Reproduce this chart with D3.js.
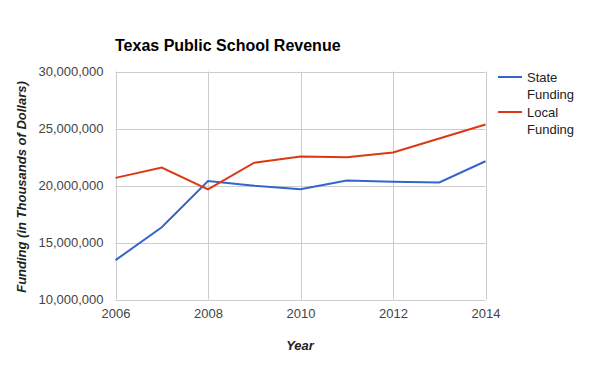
<!DOCTYPE html>
<html>
<head>
<meta charset="utf-8">
<script src="https://cdn.jsdelivr.net/npm/d3@7"></script>
<style>
  body { margin: 0; background: #fff; }
  text { font-family: Arial, "Liberation Sans", sans-serif; }
</style>
</head>
<body>
<svg id="chart" width="600" height="371"></svg>
<script>
var years = [2006, 2007, 2008, 2009, 2010, 2011, 2012, 2013, 2014];
var stateFunding = [13450000, 16340000, 20400000, 19980000, 19680000, 20440000, 20330000, 20270000, 22130000];
var localFunding = [20670000, 21580000, 19650000, 22000000, 22540000, 22480000, 22900000, 24120000, 25350000];
var seriesNames = ["State Funding", "Local Funding"];
var seriesColors = ["#3366cc", "#dc3912"];
var yTicks = [10000000, 15000000, 20000000, 25000000, 30000000];
var xTicks = [2006, 2008, 2010, 2012, 2014];

var svg = d3.select("#chart");
// plot box (note: "top" is reserved on window, so use other names)
var plotL = 115.5, plotR = 485.5, plotT = 71.5, plotB = 299.5;

var x = d3.scaleLinear().domain([2006, 2014]).range([plotL, plotR]);
var y = d3.scaleLinear().domain([10000000, 30000000]).range([plotB, plotT]);

// gridlines
var grid = svg.append("g");
grid.selectAll(".hg").data(yTicks).enter().append("line")
	.attr("x1", plotL).attr("x2", plotR)
	.attr("y1", function(d) { return Math.round(y(d)) + 0.5; })
	.attr("y2", function(d) { return Math.round(y(d)) + 0.5; })
	.attr("stroke", "#cccccc").attr("stroke-width", 1);
grid.selectAll(".vg").data(xTicks).enter().append("line")
	.attr("y1", plotT).attr("y2", plotB)
	.attr("x1", function(d) { return Math.round(x(d)) + 0.5; })
	.attr("x2", function(d) { return Math.round(x(d)) + 0.5; })
	.attr("stroke", "#cccccc").attr("stroke-width", 1);

// axes with d3
var yAxis = d3.axisLeft(y).tickValues(yTicks).tickSize(0).tickPadding(12)
	.tickFormat(d3.format(","));
var gy = svg.append("g").attr("transform", "translate(" + plotL + ",0)").call(yAxis);
gy.select(".domain").remove();
gy.selectAll("text").attr("font-size", 13).attr("fill", "#444")
	.attr("font-family", "Arial, 'Liberation Sans', sans-serif");

var xAxis = d3.axisBottom(x).tickValues(xTicks).tickSize(0).tickPadding(9)
	.tickFormat(d3.format("d"));
var gx = svg.append("g").attr("transform", "translate(0," + plotB + ")").call(xAxis);
gx.select(".domain").remove();
gx.selectAll("text").attr("font-size", 13).attr("fill", "#444")
	.attr("font-family", "Arial, 'Liberation Sans', sans-serif");

// lines
var line = d3.line()
	.x(function(d, i) { return x(years[i]); })
	.y(function(d) { return y(d); });
[stateFunding, localFunding].forEach(function(vals, i) {
	svg.append("path").datum(vals)
		.attr("d", line)
		.attr("fill", "none")
		.attr("stroke", seriesColors[i])
		.attr("stroke-width", 2);
});

// title
svg.append("text").attr("x", 115).attr("y", 51)
	.attr("font-size", 16).attr("font-weight", "bold").attr("fill", "#000")
	.text("Texas Public School Revenue");

// axis titles
svg.append("text").attr("x", 300).attr("y", 350)
	.attr("text-anchor", "middle").attr("font-size", 13)
	.attr("font-weight", "bold").attr("font-style", "italic").attr("fill", "#222")
	.text("Year");
svg.append("text")
	.attr("transform", "translate(26,187) rotate(-90)")
	.attr("text-anchor", "middle").attr("font-size", 13)
	.attr("font-weight", "bold").attr("font-style", "italic").attr("fill", "#222")
	.text("Funding (in Thousands of Dollars)");

// legend
var legend = svg.append("g");
seriesNames.forEach(function(name, i) {
	var ly = 77 + i * 35;
	legend.append("line").attr("x1", 498).attr("x2", 522)
		.attr("y1", ly).attr("y2", ly)
		.attr("stroke", seriesColors[i]).attr("stroke-width", 2);
	var words = name.split(" ");
	words.forEach(function(w, j) {
		legend.append("text").attr("x", 527).attr("y", ly + 5 + j * 17)
			.attr("font-size", 13).attr("fill", "#222").text(w);
	});
});
</script>
</body>
</html>
